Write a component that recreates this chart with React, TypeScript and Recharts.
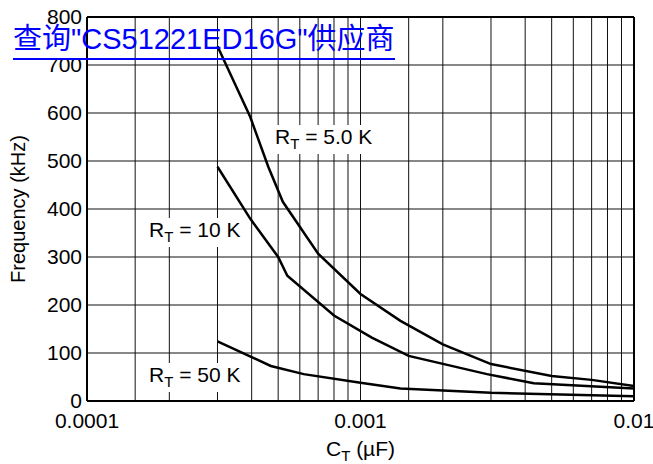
import React from 'react';
import { LineChart, Line, XAxis, YAxis, CartesianGrid, ReferenceLine } from 'recharts';

// x ticks: log grid with lines at 1.5, 2, 3 ... 9 per decade
const xTicks = [
  1e-4, 1.5e-4, 2e-4, 3e-4, 4e-4, 5e-4, 6e-4, 7e-4, 8e-4, 9e-4,
  1e-3, 1.5e-3, 2e-3, 3e-3, 4e-3, 5e-3, 6e-3, 7e-3, 8e-3, 9e-3, 1e-2,
];
const xDecades = [1e-4, 1e-3, 1e-2];
const xDecadeLabels = ['0.0001', '0.001', '0.01'];
const yTicks = [0, 100, 200, 300, 400, 500, 600, 700, 800];

// R_T = 5.0 K
const ct5k = [3e-4, 3.95e-4, 4.6e-4, 5.2e-4, 7e-4, 1e-3, 1.4e-3, 2e-3, 3e-3, 5e-3, 7e-3, 1e-2];
const f5k = [739, 592, 488, 415, 307, 223, 167, 118, 77, 52, 44, 31];
// R_T = 10 K
const ct10k = [3e-4, 3.95e-4, 5e-4, 5.4e-4, 8e-4, 1.1e-3, 1.5e-3, 2.9e-3, 4.3e-3, 1e-2];
const f10k = [488, 380, 300, 261, 178, 132, 94, 56, 37, 26];
// R_T = 50 K
const ct50k = [3e-4, 4.7e-4, 6.2e-4, 1e-3, 1.4e-3, 3e-3, 1e-2];
const f50k = [124, 73, 56, 38, 26, 17, 10];

const zip = (xs: number[], ys: number[]) => xs.map((c, i) => ({ c, f: ys[i] }));

const FONT = '"Liberation Sans", Arial, Helvetica, sans-serif';

const fmtX = (v: number) => {
  const i = xDecades.findIndex((d) => Math.abs(d - v) / d < 1e-6);
  return i >= 0 ? xDecadeLabels[i] : '';
};

const RLabel = ({ x, y, w, sub }: { x: number; y: number; w: number; sub: string }) => (
  <g>
    <rect x={x - 3} y={y - 19} width={w} height={29} fill="#fff" />
    <text x={x} y={y} fontSize={21} fontFamily={FONT} fill="#000">
      R
      <tspan fontSize={15} dy={5}>T</tspan>
      <tspan dy={-5}>{` = ${sub}`}</tspan>
    </text>
  </g>
);

export default function App() {
  return (
    <div style={{ position: 'absolute', left: 0, top: 0, width: 653, height: 464, background: '#fff' }}>
      <LineChart width={653} height={464} margin={{ top: 17, right: 19, bottom: 33, left: 27 }}>
        <CartesianGrid stroke="#111" strokeWidth={1} />
        <XAxis
          dataKey="c"
          type="number"
          scale="log"
          domain={[1e-4, 1e-2]}
          ticks={xTicks}
          interval={0}
          allowDataOverflow
          tickFormatter={fmtX}
          tickLine={false}
          tickSize={0}
          tickMargin={12}
          height={30}
          axisLine={{ stroke: '#000', strokeWidth: 2 }}
          tick={{ fontSize: 21, fill: '#000', fontFamily: FONT }}
          label={(props: any) => {
            const vb = props.viewBox;
            const cx = vb.x + vb.width / 2;
            return (
              <text x={cx} y={456} textAnchor="middle" fontSize={21} fontFamily={FONT} fill="#000">
                C<tspan fontSize={15} dy={5}>T</tspan>
                <tspan dy={-5}> (µF)</tspan>
              </text>
            );
          }}
        />
        <YAxis
          type="number"
          domain={[0, 800]}
          ticks={yTicks}
          interval={0}
          width={60}
          tickLine={false}
          tickSize={0}
          tickMargin={5}
          axisLine={{ stroke: '#000', strokeWidth: 2 }}
          tick={{ fontSize: 21, fill: '#000', fontFamily: FONT }}
          label={{
            value: 'Frequency (kHz)',
            angle: -90,
            position: 'insideLeft',
            offset: -9,
            style: { fontSize: 20, fill: '#000', fontFamily: FONT, textAnchor: 'middle' },
          }}
        />
        <ReferenceLine y={800} stroke="#000" strokeWidth={2} />
        <ReferenceLine x={1e-2} stroke="#000" strokeWidth={2} />
        <Line data={zip(ct5k, f5k)} dataKey="f" stroke="#000" strokeWidth={2.5} dot={false} type="linear" isAnimationActive={false} />
        <Line data={zip(ct10k, f10k)} dataKey="f" stroke="#000" strokeWidth={2.5} dot={false} type="linear" isAnimationActive={false} />
        <Line data={zip(ct50k, f50k)} dataKey="f" stroke="#000" strokeWidth={2.5} dot={false} type="linear" isAnimationActive={false} />
        <RLabel x={275} y={144} w={104} sub="5.0 K" />
        <RLabel x={149} y={237} w={97} sub="10 K" />
        <RLabel x={149} y={382} w={97} sub="50 K" />
      </LineChart>
      <div
        style={{
          position: 'absolute',
          left: 13,
          top: 20,
          fontSize: 29,
          lineHeight: '38px',
          color: '#0000ff',
          fontFamily: '"Liberation Sans", Arial, "Noto Sans CJK SC", sans-serif',
          borderBottom: '2px solid #0000ff',
          whiteSpace: 'nowrap',
        }}
      >
        查询"CS51221ED16G"供应商
      </div>
    </div>
  );
}
